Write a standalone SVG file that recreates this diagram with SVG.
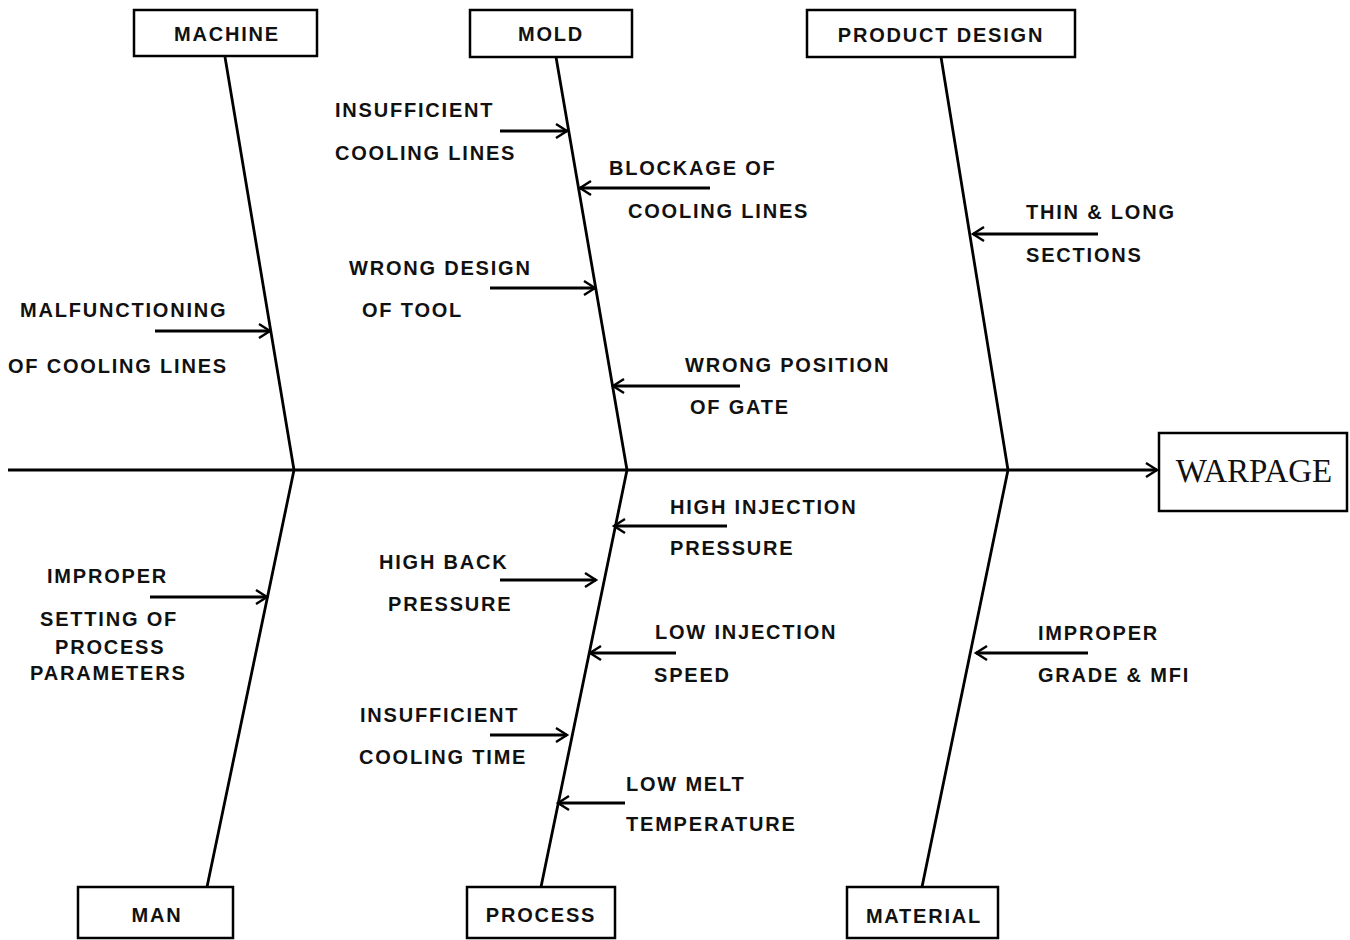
<svg xmlns="http://www.w3.org/2000/svg" width="1350" height="940" viewBox="0 0 1350 940">
<style>
.box{fill:#fff;stroke:#000;stroke-width:2.5}
.ln{fill:none;stroke:#000;stroke-width:2.8}
.ar{fill:none;stroke:#000;stroke-width:2.8;marker-end:url(#ah)}
.t{font-family:"Liberation Sans",Arial,sans-serif;font-weight:bold;font-size:20px;letter-spacing:1.8px;fill:#111}
.c{text-anchor:middle}
.big{font-family:"Liberation Serif","Times New Roman",serif;font-size:33px;fill:#111;text-anchor:middle}
</style>
<defs>
<marker id="ah" markerWidth="16" markerHeight="16" refX="13" refY="8" orient="auto" markerUnits="userSpaceOnUse">
<path d="M2,1 L13,8 L2,15" fill="none" stroke="#000" stroke-width="2.4"/>
</marker>
</defs>
<rect width="1350" height="940" fill="#fff"/>
<g id="connectors">
<line class="ar" x1="8" y1="470" x2="1157" y2="470"/>
<polyline class="ln" points="225,57 294,470 207,887"/>
<polyline class="ln" points="556,57 627,470 541,887"/>
<polyline class="ln" points="941,57 1008,470 922,887"/>
<line class="ar" x1="155" y1="331" x2="270" y2="331"/>
<line class="ar" x1="500" y1="131" x2="567" y2="131"/>
<line class="ar" x1="710" y1="188" x2="580" y2="188"/>
<line class="ar" x1="490" y1="288" x2="595" y2="288"/>
<line class="ar" x1="740" y1="386" x2="613" y2="386"/>
<line class="ar" x1="1098" y1="234" x2="973" y2="234"/>
<line class="ar" x1="727" y1="526" x2="614" y2="526"/>
<line class="ar" x1="500" y1="580" x2="596" y2="580"/>
<line class="ar" x1="676" y1="653" x2="590" y2="653"/>
<line class="ar" x1="490" y1="735" x2="567" y2="735"/>
<line class="ar" x1="625" y1="803" x2="558" y2="803"/>
<line class="ar" x1="150" y1="597" x2="267" y2="597"/>
<line class="ar" x1="1088" y1="653" x2="976" y2="653"/>
</g>
<g id="machine"><rect class="box" x="134" y="10" width="183" height="46"/><text class="t c" x="227" y="41">MACHINE</text></g>
<g id="mold"><rect class="box" x="470" y="10" width="162" height="47"/><text class="t c" x="551" y="41">MOLD</text></g>
<g id="product-design"><rect class="box" x="807" y="10" width="268" height="47"/><text class="t c" x="941" y="42">PRODUCT DESIGN</text></g>
<g id="warpage"><rect class="box" x="1159" y="433" width="188" height="78"/><text class="big" x="1254" y="482">WARPAGE</text></g>
<g id="man"><rect class="box" x="78" y="887" width="155" height="51"/><text class="t c" x="157" y="922">MAN</text></g>
<g id="process"><rect class="box" x="467" y="887" width="148" height="51"/><text class="t c" x="541" y="922">PROCESS</text></g>
<g id="material"><rect class="box" x="847" y="887" width="151" height="51"/><text class="t c" x="924" y="923">MATERIAL</text></g>
<g id="cause-machine">
<text class="t" x="20" y="317">MALFUNCTIONING</text>
<text class="t" x="8" y="373">OF COOLING LINES</text>
</g>
<g id="cause-mold-1"><text class="t" x="335" y="117">INSUFFICIENT</text><text class="t" x="335" y="160">COOLING LINES</text></g>
<g id="cause-mold-2"><text class="t" x="609" y="175">BLOCKAGE OF</text><text class="t" x="628" y="218">COOLING LINES</text></g>
<g id="cause-mold-3"><text class="t" x="349" y="275">WRONG DESIGN</text><text class="t" x="362" y="317">OF TOOL</text></g>
<g id="cause-mold-4"><text class="t" x="685" y="372">WRONG POSITION</text><text class="t" x="690" y="414">OF GATE</text></g>
<g id="cause-design"><text class="t" x="1026" y="219">THIN &amp; LONG</text><text class="t" x="1026" y="262">SECTIONS</text></g>
<g id="cause-process-1"><text class="t" x="670" y="514">HIGH INJECTION</text><text class="t" x="670" y="555">PRESSURE</text></g>
<g id="cause-process-2"><text class="t" x="379" y="569">HIGH BACK</text><text class="t" x="388" y="611">PRESSURE</text></g>
<g id="cause-process-3"><text class="t" x="655" y="639">LOW INJECTION</text><text class="t" x="654" y="682">SPEED</text></g>
<g id="cause-process-4"><text class="t" x="360" y="722">INSUFFICIENT</text><text class="t" x="359" y="764">COOLING TIME</text></g>
<g id="cause-process-5"><text class="t" x="626" y="791">LOW MELT</text><text class="t" x="626" y="831">TEMPERATURE</text></g>
<g id="cause-man">
<text class="t" x="47" y="583">IMPROPER</text>
<text class="t" x="40" y="626">SETTING OF</text>
<text class="t" x="55" y="654">PROCESS</text>
<text class="t" x="30" y="680">PARAMETERS</text>
</g>
<g id="cause-material"><text class="t" x="1038" y="640">IMPROPER</text><text class="t" x="1038" y="682">GRADE &amp; MFI</text></g>
</svg>
